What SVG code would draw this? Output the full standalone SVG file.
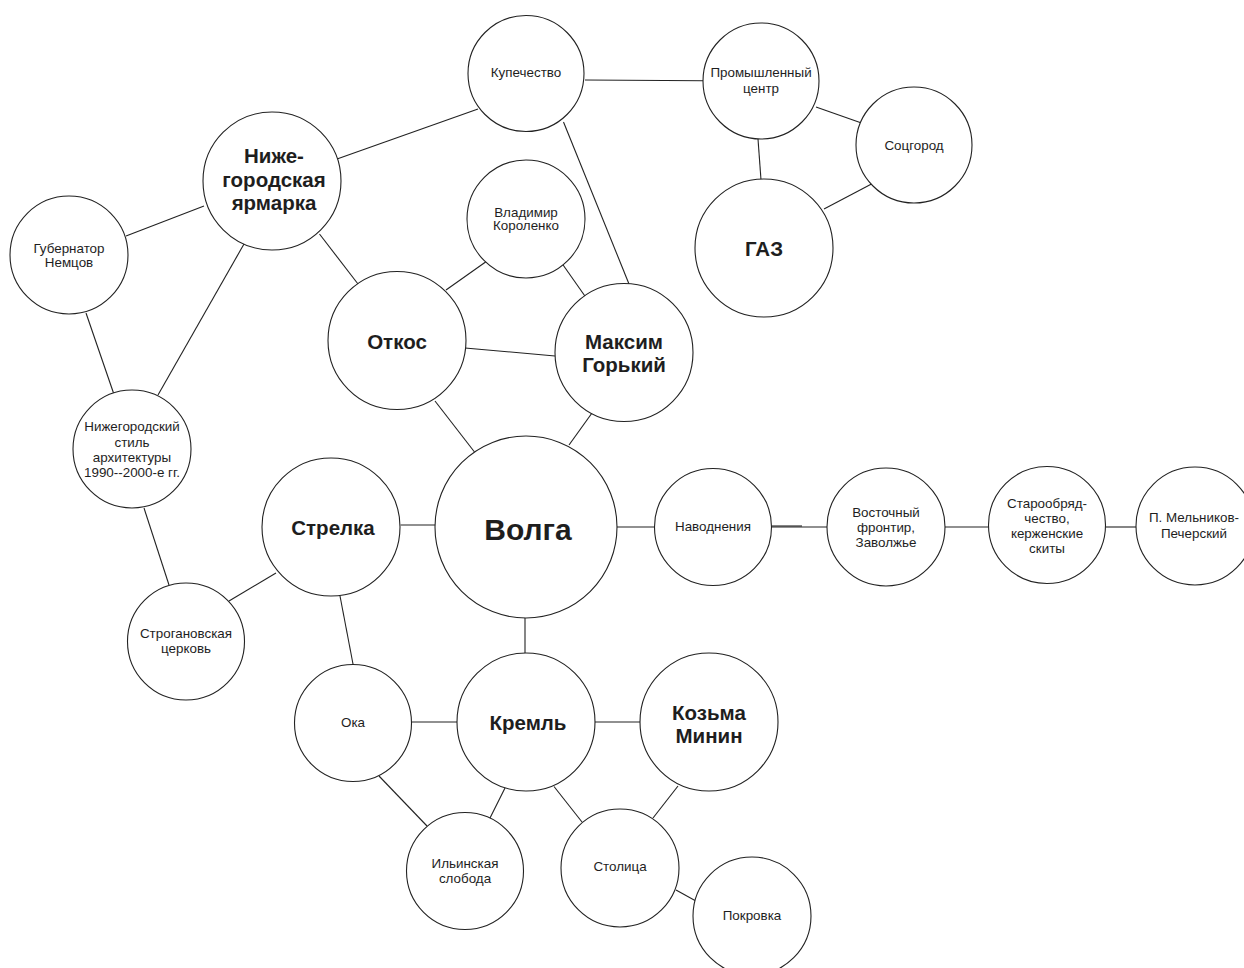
<svg xmlns="http://www.w3.org/2000/svg" width="1244" height="968" viewBox="0 0 1244 968">
<style>
.bg{fill:#ffffff}
.edges line{stroke:#222;stroke-width:1.1;fill:none}
.node circle{fill:#ffffff;stroke:#222;stroke-width:1.1}
.node text{font-family:"Liberation Sans",Arial,sans-serif;font-size:13.4px;text-anchor:middle;fill:#1e1e1e}
.node text.b{font-weight:bold;font-size:20.5px}
.node text.xl{font-weight:bold;font-size:30px}
</style>
<rect class="bg" x="0" y="0" width="1244" height="968"/>
<g id="connectors" class="edges">
<line x1="337" y1="159" x2="478" y2="109"/>
<line x1="126" y1="236" x2="204" y2="206"/>
<line x1="86" y1="313" x2="113.5" y2="393"/>
<line x1="244" y1="244" x2="158" y2="395"/>
<line x1="319.5" y1="234" x2="358" y2="284"/>
<line x1="563.5" y1="122" x2="629" y2="284"/>
<line x1="487" y1="261" x2="446" y2="290"/>
<line x1="561" y1="262" x2="587" y2="299"/>
<line x1="465" y1="348" x2="555" y2="356"/>
<line x1="435" y1="401" x2="474.5" y2="452"/>
<line x1="592" y1="413" x2="569" y2="445"/>
<line x1="585" y1="80" x2="704" y2="80.7"/>
<line x1="816" y1="107" x2="861.5" y2="123"/>
<line x1="758" y1="139" x2="761" y2="180"/>
<line x1="871.5" y1="184" x2="824" y2="209"/>
<line x1="144" y1="508" x2="169" y2="585"/>
<line x1="276" y1="573" x2="229" y2="601"/>
<line x1="400.6" y1="525" x2="435" y2="525"/>
<line x1="340" y1="596" x2="353" y2="664"/>
<line x1="525" y1="617" x2="525" y2="653.5"/>
<line x1="412" y1="722" x2="457.5" y2="722"/>
<line x1="379" y1="776" x2="427" y2="826"/>
<line x1="505" y1="788" x2="489.5" y2="819"/>
<line x1="554" y1="786.5" x2="582" y2="822"/>
<line x1="616" y1="527" x2="655" y2="527"/>
<line x1="772" y1="527" x2="827" y2="527"/>
<line x1="772" y1="526" x2="802" y2="526"/>
<line x1="945" y1="527" x2="988.5" y2="527"/>
<line x1="1106" y1="527" x2="1136" y2="527"/>
<line x1="594" y1="722" x2="640" y2="722"/>
<line x1="678" y1="786" x2="653" y2="818"/>
<line x1="676" y1="890" x2="695" y2="900.5"/>
</g>
<g id="n-kupechestvo" class="node"><circle cx="526" cy="73.5" r="58"/><text x="526" y="77">Купечество</text></g>
<g id="n-promcentr" class="node"><circle cx="761" cy="81" r="58"/><text x="761" y="77">Промышленный</text><text x="761" y="93">центр</text></g>
<g id="n-sotsgorod" class="node"><circle cx="914" cy="145" r="58"/><text x="914" y="150">Соцгород</text></g>
<g id="n-gaz" class="node"><circle cx="764" cy="248" r="69"/><text class="b" x="764" y="256">ГАЗ</text></g>
<g id="n-yarmarka" class="node"><circle cx="272" cy="181" r="69"/><text class="b" x="274" y="163">Ниже-</text><text class="b" x="274" y="187">городская</text><text class="b" x="274" y="210">ярмарка</text></g>
<g id="n-nemtsov" class="node"><circle cx="69" cy="255" r="59"/><text x="69" y="253">Губернатор</text><text x="69" y="267">Немцов</text></g>
<g id="n-korolenko" class="node"><circle cx="526" cy="219" r="59"/><text x="526" y="217">Владимир</text><text x="526" y="230">Короленко</text></g>
<g id="n-otkos" class="node"><circle cx="397" cy="340.5" r="69"/><text class="b" x="397" y="349">Откос</text></g>
<g id="n-gorky" class="node"><circle cx="624" cy="352.5" r="69"/><text class="b" x="624" y="349">Максим</text><text class="b" x="624" y="372">Горький</text></g>
<g id="n-stil" class="node"><circle cx="132" cy="449" r="59"/><text x="132" y="431">Нижегородский</text><text x="132" y="447">стиль</text><text x="132" y="462">архитектуры</text><text x="132" y="477">1990--2000-е гг.</text></g>
<g id="n-strelka" class="node"><circle cx="331" cy="527" r="69"/><text class="b" x="333" y="535">Стрелка</text></g>
<g id="n-volga" class="node"><circle cx="526" cy="527" r="91"/><text class="xl" x="528" y="540">Волга</text></g>
<g id="n-navodneniya" class="node"><circle cx="713" cy="527" r="58.5"/><text x="713" y="531">Наводнения</text></g>
<g id="n-vostochny" class="node"><circle cx="886" cy="527" r="59"/><text x="886" y="517">Восточный</text><text x="886" y="532">фронтир,</text><text x="886" y="547">Заволжье</text></g>
<g id="n-staroobr" class="node"><circle cx="1047" cy="525" r="58.5"/><text x="1047" y="508">Старообряд-</text><text x="1047" y="523">чество,</text><text x="1047" y="538">керженские</text><text x="1047" y="553">скиты</text></g>
<g id="n-melnikov" class="node"><circle cx="1195" cy="526" r="59"/><text x="1194" y="522">П. Мельников-</text><text x="1194" y="538">Печерский</text></g>
<g id="n-stroganov" class="node"><circle cx="186" cy="641.5" r="58.5"/><text x="186" y="638">Строгановская</text><text x="186" y="653">церковь</text></g>
<g id="n-oka" class="node"><circle cx="353" cy="723" r="58.5"/><text x="353" y="727">Ока</text></g>
<g id="n-kreml" class="node"><circle cx="526" cy="722" r="69"/><text class="b" x="528" y="730">Кремль</text></g>
<g id="n-minin" class="node"><circle cx="709" cy="722" r="69"/><text class="b" x="709" y="720">Козьма</text><text class="b" x="709" y="743">Минин</text></g>
<g id="n-ilinskaya" class="node"><circle cx="465" cy="871" r="58.5"/><text x="465" y="868">Ильинская</text><text x="465" y="883">слобода</text></g>
<g id="n-stolitsa" class="node"><circle cx="620" cy="868" r="59"/><text x="620" y="871">Столица</text></g>
<g id="n-pokrovka" class="node"><circle cx="752" cy="916" r="59"/><text x="752" y="920">Покровка</text></g>
</svg>
